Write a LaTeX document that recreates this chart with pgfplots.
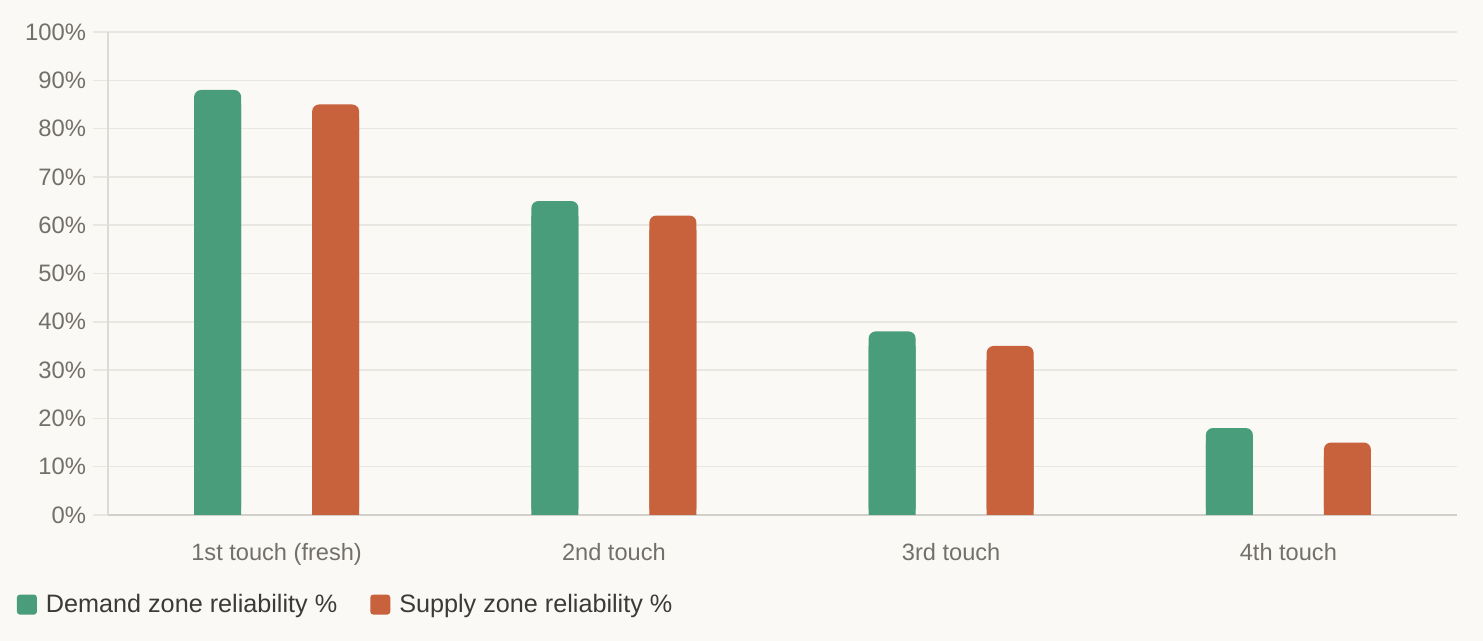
\documentclass[border=0pt]{standalone}
\usepackage{fontspec}
\setmainfont{Liberation Sans}
\usepackage{pgfplots}
\pgfplotsset{compat=1.18}
\usepackage{pgfplotstable}
\definecolor{bg}{HTML}{FAF9F5}
\definecolor{grn}{HTML}{4A9D7A}
\definecolor{org}{HTML}{C8623D}
\definecolor{gridc}{HTML}{E9E7E2}
\definecolor{axisy}{HTML}{DDDBD6}
\definecolor{axisx}{HTML}{D2D0CB}
\definecolor{tickc}{HTML}{73706A}
\definecolor{legc}{HTML}{3B3A36}
\pgfplotstableread{
x demand supply
0 88 85
1 65 62
2 38 35
3 18 15
}\data
\begin{document}
\begin{tikzpicture}
\fill[bg] (0,0) rectangle (741.5pt,320.5pt);
\useasboundingbox (0,0) rectangle (741.5pt,320.5pt);
\begin{axis}[
  at={(54pt,63pt)}, anchor=south west,
  scale only axis, width=674.5pt, height=241.5pt,
  xmin=-0.5, xmax=3.5, ymin=0, ymax=100,
  axis x line=bottom, axis y line=left,
  x axis line style={-, axisx, line width=1pt},
  y axis line style={-, axisy, line width=0.75pt},
  ytick={0,10,...,100},
  /pgf/number format/assume math mode=true,
  yticklabel={\pgfmathprintnumber{\tick}\%},
  ymajorgrids, grid style={gridc, line width=0.75pt},
  tick align=outside, major tick length=7.5pt,
  ytick style={gridc, line width=0.75pt},
  xtick={0,1,2,3},
  xticklabels={1st touch (fresh),2nd touch,3rd touch,4th touch},
  xtick style={draw=none},
  yticklabel style={font=\fontsize{11.9}{13}\selectfont, text=tickc},
  xticklabel style={font=\fontsize{11.8}{13}\selectfont, text=tickc, yshift=-3pt},
  legend columns=2,
  legend style={at={(axis description cs:-0.0675,-0.1855)}, anchor=west,
    draw=none, fill=none, inner sep=0pt, outer sep=0pt,
    font=\fontsize{12.6}{14}\selectfont, text=legc,
    nodes={inner sep=0pt},
    /tikz/every odd column/.append style={column sep=4.5pt},
    /tikz/every even column/.append style={column sep=16.5pt}},
]
\addplot[ybar, bar width=23.5pt, bar shift=-29.5pt, fill=grn, draw=none, rounded corners=3.5pt,
  legend image code/.code={\fill[grn, rounded corners=1.5pt] (0pt,-5pt) rectangle (10pt,5pt);}]
  table[x=x, y=demand]{\data};
\addlegendentry{Demand zone reliability \%}
\addplot[ybar, bar width=23.5pt, bar shift=29.5pt, fill=org, draw=none, rounded corners=3.5pt,
  legend image code/.code={\fill[org, rounded corners=1.5pt] (0pt,-5pt) rectangle (10pt,5pt);}]
  table[x=x, y=supply]{\data};
\addlegendentry{Supply zone reliability \%}
\addplot[ybar, bar width=23.5pt, bar shift=-29.5pt, fill=grn, draw=none, forget plot]
  table[x=x, y expr=\thisrow{demand}-3]{\data};
\addplot[ybar, bar width=23.5pt, bar shift=29.5pt, fill=org, draw=none, forget plot]
  table[x=x, y expr=\thisrow{supply}-3]{\data};
\end{axis}
\end{tikzpicture}
\end{document}
